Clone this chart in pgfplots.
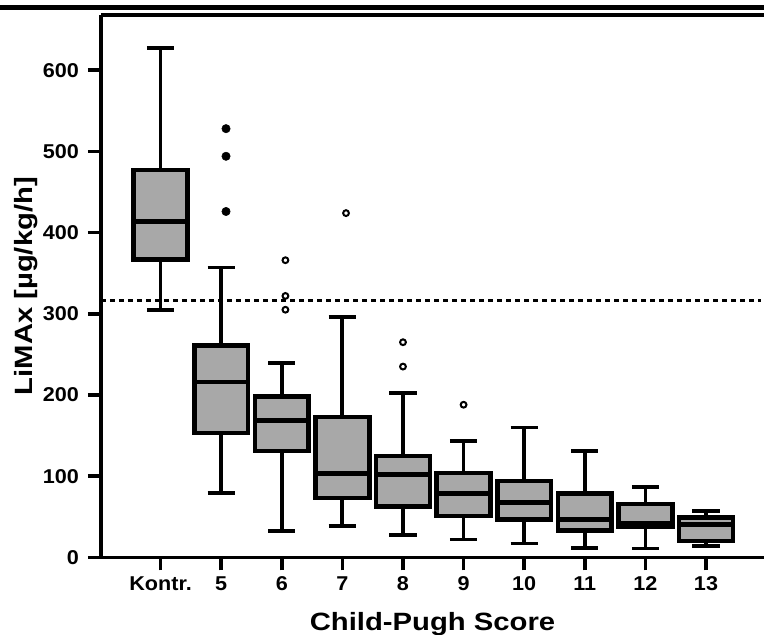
\documentclass[border=0pt]{standalone}
\usepackage{fontspec}
\setmainfont{Liberation Sans}
\newfontfamily\lblfont[FakeStretch=1.17]{Liberation Sans}
\newfontfamily\tickfont[FakeStretch=1.08]{Liberation Sans}
\usepackage{pgfplots}
\pgfplotsset{compat=1.18}
\usepgfplotslibrary{statistics}
\definecolor{boxgray}{RGB}{168,168,168}
\pgfplotsset{
  mybox/.style={
    boxplot/every box/.style={draw=black, line width=4.6pt, fill=boxgray},
    boxplot/every median/.style={draw=black, line width=4.8pt},
    boxplot/every whisker/.style={draw=black, line width=3.8pt},
    boxplot/box extend=0.89,
    boxplot/whisker extend=0.45,
    boxplot/draw direction=y,
  }
}
\begin{document}
\begin{tikzpicture}
\begin{axis}[
  name=ax,
  scale only axis,
  width=663pt, height=542.4pt,
  xmin=-0.983, xmax=9.957, ymin=0, ymax=668,
  axis x line*=box, axis y line*=left,
  xtick={0,...,9},
  xticklabels={Kontr.,5,6,7,8,9,10,11,12,13},
  ytick={0,100,...,600},
  tick align=outside, xtick pos=bottom, ytick pos=left,
  major tick length=13pt,
  tick style={line width=3.5pt, black},
  major tick style={line width=3.5pt, black},
  axis line style={line width=3.3pt, black},
  /pgf/number format/assume math mode=true,
  ticklabel style={font=\tickfont\fontsize{20}{23}\selectfont\bfseries},
  yticklabel style={inner sep=2pt, xshift=-7pt},
  xticklabel style={yshift=-3pt},
  xlabel={Child-Pugh Score},
  ylabel={LiMAx [µg/kg/h]},
  xlabel style={font=\lblfont\fontsize{25}{28}\selectfont\bfseries,
    at={(axis description cs:0.5,-0.1347)}, anchor=base},
  ylabel style={font=\lblfont\fontsize{25}{28}\selectfont\bfseries,
    at={(axis description cs:-0.104,0.5)}, anchor=base},
  clip=false,
  mybox,
]
% reference line
\addplot[black, line width=3pt, dash pattern=on 5pt off 4pt] coordinates {(-0.983,317) (9.9,317)};
% boxes
\addplot[boxplot prepared={draw position=0, lower whisker=305, lower quartile=367, median=414, upper quartile=477, upper whisker=627}] coordinates {};
\addplot[boxplot prepared={draw position=1, lower whisker=79, lower quartile=153, median=216, upper quartile=261, upper whisker=357}] coordinates {};
\addplot[boxplot prepared={draw position=2, lower whisker=33, lower quartile=131, median=169, upper quartile=198, upper whisker=239}] coordinates {};
\addplot[boxplot prepared={draw position=3, lower whisker=39, lower quartile=73, median=103, upper quartile=173, upper whisker=296}] coordinates {};
\addplot[boxplot prepared={draw position=4, lower whisker=28, lower quartile=63, median=102, upper quartile=125, upper whisker=202}] coordinates {};
\addplot[boxplot prepared={draw position=5, lower whisker=22, lower quartile=51, median=79, upper quartile=104, upper whisker=143}] coordinates {};
\addplot[boxplot prepared={draw position=6, lower whisker=17, lower quartile=47, median=68, upper quartile=94, upper whisker=160}] coordinates {};
\addplot[boxplot prepared={draw position=7, lower whisker=12, lower quartile=33, median=47, upper quartile=79, upper whisker=131}] coordinates {};
\addplot[boxplot prepared={draw position=8, lower whisker=11, lower quartile=38, median=42, upper quartile=66, upper whisker=87}] coordinates {};
\addplot[boxplot prepared={draw position=9, lower whisker=14, lower quartile=20, median=41, upper quartile=49, upper whisker=57}] coordinates {};
% outliers
\addplot[only marks, mark=*, mark size=4.2pt, mark options={fill=black, draw=black, line width=0.5pt}]
  coordinates {(1.08,528) (1.08,494) (1.08,426)};
\addplot[only marks, mark=o, mark size=2.9pt, mark options={draw=black, line width=2pt}]
  coordinates {(2.06,366) (2.06,322) (2.06,305) (3.06,424) (4.0,265) (4.0,235) (5.0,188)};
% top frame line
\draw[black, line width=5pt] (rel axis cs:-0.1523,1.0129) -- (rel axis cs:1,1.0129);
\end{axis}
\pgfresetboundingbox
\path ([xshift=-101pt, yshift=-77.6pt]ax.south west) rectangle ([yshift=15pt]ax.north east);
\end{tikzpicture}
\end{document}
